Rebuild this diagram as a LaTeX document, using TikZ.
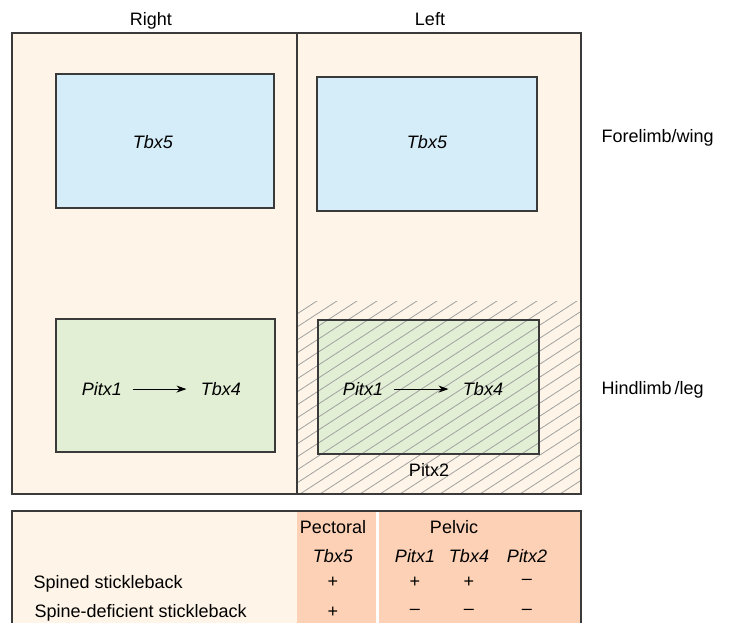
\documentclass[tikz,border=0pt]{standalone}
\usepackage{fontspec}
\setmainfont{Liberation Sans}
\usepackage{tikz}
\usetikzlibrary{arrows.meta}

\definecolor{cream}{HTML}{FEF5E8}
\definecolor{wingblue}{HTML}{D5ECF9}
\definecolor{leggreen}{HTML}{E2EFD5}
\definecolor{finsalmon}{HTML}{FDD1B5}
\definecolor{frame}{HTML}{3A3A3A}
\definecolor{hatchgray}{HTML}{A0A0A0}

\newcommand{\labelsize}{\fontsize{18}{22}\selectfont}

\tikzset{
	panel/.style={draw=frame, line width=1.2pt},
	genebox/.style={draw=frame, line width=1.1pt},
	txt/.style={anchor=base, font=\labelsize},
	gene/.style={anchor=base, font=\labelsize\itshape},
	hatch/.style={hatchgray, line width=0.8pt},
	activates/.style={-{Stealth[length=10pt, width=7pt]}, line width=0.9pt, shorten <=7pt, shorten >=11pt},
}

\begin{document}
\begin{tikzpicture}[x=1pt, y=-1pt, font=\labelsize]
			\useasboundingbox (0, 0) rectangle (729, 623);

			% limb panel
			\fill[cream] (12, 33) rectangle (581, 494);
			\begin{scope}
				\clip (297, 301) rectangle (581, 494);
				\foreach \x in {-120, -100, ..., 600}
					\draw[hatch] (\x, 494) -- ++(400, -260);
			\end{scope}
			\draw[panel] (12, 33) rectangle (581, 494);
			\draw[panel] (297, 33) -- (297, 494);

			\node[txt] (right) at (151, 26) {Right};
			\node[txt] (left) at (430, 26) {Left};
			\node[txt, anchor=base west] (fore) at (598, 142.5) {Forelimb/wing};
			\node[txt, anchor=base west] (hind) at (598, 394.5) {Hindlimb\,/leg};

			% forelimb boxes
			\draw[genebox, fill=wingblue] (56, 74) rectangle (274, 208);
			\draw[genebox, fill=wingblue] (317, 77) rectangle (537, 211);
			\node[gene] (tbxfiveR) at (153, 148.5) {Tbx5};
			\node[gene] (tbxfiveL) at (427, 148.5) {Tbx5};

			% hindlimb boxes
			\draw[genebox, fill=leggreen] (56, 319) rectangle (275, 452);
			\begin{scope}
				\fill[leggreen] (318, 320) rectangle (539, 454);
				\clip (318, 320) rectangle (539, 454);
				\foreach \x in {-120, -100, ..., 600}
					\draw[hatch] (\x, 494) -- ++(400, -260);
			\end{scope}
			\draw[genebox] (318, 320) rectangle (539, 454);

			\node[gene] (pitxR) at (102, 395.5) {Pitx1};
			\node[gene] (tbxfourR) at (221, 395.5) {Tbx4};
			\draw[activates] (pitxR) -- (tbxfourR);
			\node[gene] (pitxL) at (363, 395.5) {Pitx1};
			\node[gene] (tbxfourL) at (483, 395.5) {Tbx4};
			\draw[activates] (pitxL) -- (tbxfourL);
			\node[txt] (pitxtwo) at (429, 476.5) {Pitx2};

			% expression table
			\fill[cream] (12, 511) rectangle (297, 623);
			\fill[finsalmon] (297, 511) rectangle (376, 623);
			\fill[white] (376, 511) rectangle (379, 623);
			\fill[finsalmon] (379, 511) rectangle (581, 623);
			\draw[panel] (12, 623) -- (12, 511) -- (581, 511) -- (581, 623);

			\node[txt] (pectoral) at (333, 533.5) {Pectoral};
			\node[txt] (pelvic) at (454, 533.5) {Pelvic};
			\node[gene] (hTbxfive) at (333, 562.5) {Tbx5};
			\node[gene] (hPitx) at (415, 562.5) {Pitx1};
			\node[gene] (hTbxfour) at (469, 562.5) {Tbx4};
			\node[gene] (hPitxtwo) at (527, 562.5) {Pitx2};

			\node[txt, anchor=base west] (spined) at (30, 588.5) {Spined stickleback};
			\node[txt, anchor=base west] (deficient) at (31, 617.5) {Spine-deficient stickleback};

			\foreach \col/\a/\b in {333/+/+, 415/+/--, 469/+/--, 527/--/--} {
				\node at (\col, 582) {\a};
				\node at (\col, 612) {\b};
			}
		\end{tikzpicture}
\end{document}
